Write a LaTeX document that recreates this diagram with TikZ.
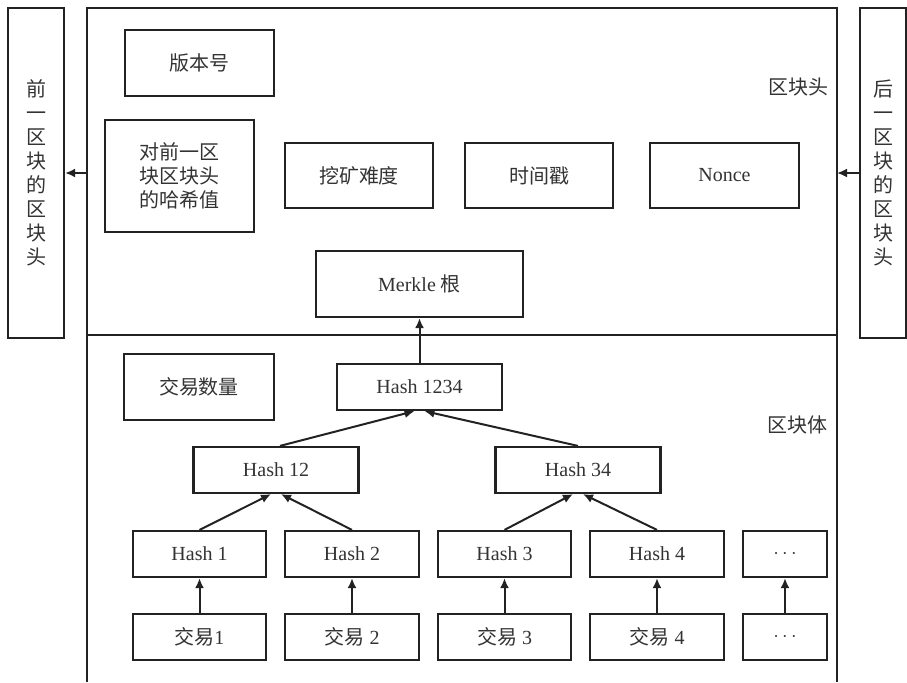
\documentclass[tikz,border=0pt]{standalone}
\usepackage{fontspec}
\setmainfont{Liberation Serif}
\newfontfamily\cjk{Noto Sans CJK SC}
\usetikzlibrary{arrows.meta}
\definecolor{ink}{HTML}{222222}
\definecolor{txt}{HTML}{333333}
\tikzset{
  x=0.5pt, y=-0.5pt,
  box/.style={draw=ink, line width=1.1pt, rectangle, inner sep=0pt, text=txt, font=\fontsize{10pt}{12pt}\selectfont, align=center},
  hbox/.style={box, minimum height=23pt},
  lbl/.style={text=txt, font=\fontsize{10pt}{12pt}\selectfont\cjk, inner sep=0pt},
  conn/.style={draw=ink, line width=1pt, -{Latex[length=5pt,width=4.5pt]}},
  frame/.style={draw=ink, line width=1.1pt}
}
\begin{document}
\begin{tikzpicture}
\useasboundingbox (0,0) rectangle (907,682);
% outer frame
\draw[frame] (87,682) -- (87,8) -- (837,8) -- (837,682);
\draw[frame] (87,335) -- (837,335);
\coordinate (fl) at (87,173);
\coordinate (fr) at (837,173);
% side boxes
\node[box, minimum width=28pt, minimum height=165pt, font=\fontsize{10pt}{12pt}\selectfont\cjk] (prevblk) at (36,173) {前\\一\\区\\块\\的\\区\\块\\头};
\node[box, minimum width=23pt, minimum height=165pt, font=\fontsize{10pt}{12pt}\selectfont\cjk] (nextblk) at (883,173) {后\\一\\区\\块\\的\\区\\块\\头};
% header
\node[box, minimum width=74.5pt, minimum height=33pt, font=\fontsize{10pt}{12pt}\selectfont\cjk] (ver) at (199.5,63) {版本号};
\node[box, minimum width=74.5pt, minimum height=56pt, font=\fontsize{10pt}{12pt}\selectfont\cjk] (prevhash) at (179.5,176) {对前一区\\块区块头\\的哈希值};
\node[box, minimum width=74pt, minimum height=32.5pt, font=\fontsize{10pt}{12pt}\selectfont\cjk] (diff) at (359,175.5) {挖矿难度};
\node[box, minimum width=74pt, minimum height=32.5pt, font=\fontsize{10pt}{12pt}\selectfont\cjk] (ts) at (539,175.5) {时间戳};
\node[box, minimum width=74.5pt, minimum height=32.5pt] (nonce) at (724.5,175.5) {Nonce};
\node[box, minimum width=103.5pt, minimum height=33pt] (merkle) at (419.5,284) {Merkle {\cjk 根}};
\node[lbl] (hdrlbl) at (798,87) {区块头};
% body
\node[box, minimum width=75pt, minimum height=33pt, font=\fontsize{10pt}{12pt}\selectfont\cjk] (count) at (199,387) {交易数量};
\node[lbl] (bodylbl) at (797,425) {区块体};
\node[hbox, minimum width=82.5pt] (h1234) at (419.5,387) {Hash 1234};
\node[hbox, minimum width=82.5pt] (h12) at (276,470) {Hash 12};
\node[hbox, minimum width=82.5pt] (h34) at (578,470) {Hash 34};
\node[hbox, minimum width=66.5pt] (h1) at (199.5,554) {Hash 1};
\node[hbox, minimum width=67pt] (h2) at (352,554) {Hash 2};
\node[hbox, minimum width=66.5pt] (h3) at (504.5,554) {Hash 3};
\node[hbox, minimum width=67pt] (h4) at (657,554) {Hash 4};
\node[hbox, minimum width=42pt] (hd) at (785,554) {$\cdots$};
\node[hbox, minimum width=66.5pt] (t1) at (199.5,637) {{\cjk 交易}1};
\node[hbox, minimum width=67pt] (t2) at (352,637) {{\cjk 交易} 2};
\node[hbox, minimum width=66.5pt] (t3) at (504.5,637) {{\cjk 交易} 3};
\node[hbox, minimum width=67pt] (t4) at (657,637) {{\cjk 交易} 4};
\node[hbox, minimum width=42pt] (td) at (785,637) {$\cdots$};
% connectors
\draw[conn] (fl) -- (prevblk.east |- fl);
\draw[conn] (nextblk.west |- fr) -- (fr);
\draw[conn] (h1234.north) -- (merkle.south);
\draw[conn] ([xshift=2pt]h12.north) -- ([xshift=-2.5pt]h1234.south);
\draw[conn] (h34.north) -- ([xshift=2.5pt]h1234.south);
\draw[conn] (h1.north) -- ([xshift=-2.5pt]h12.south);
\draw[conn] (h2.north) -- ([xshift=2.5pt]h12.south);
\draw[conn] (h3.north) -- ([xshift=-2.5pt]h34.south);
\draw[conn] (h4.north) -- ([xshift=2.5pt]h34.south);
\draw[conn] (t1.north) -- (h1.south);
\draw[conn] (t2.north) -- (h2.south);
\draw[conn] (t3.north) -- (h3.south);
\draw[conn] (t4.north) -- (h4.south);
\draw[conn] (td.north) -- (hd.south);
\end{tikzpicture}
\end{document}
